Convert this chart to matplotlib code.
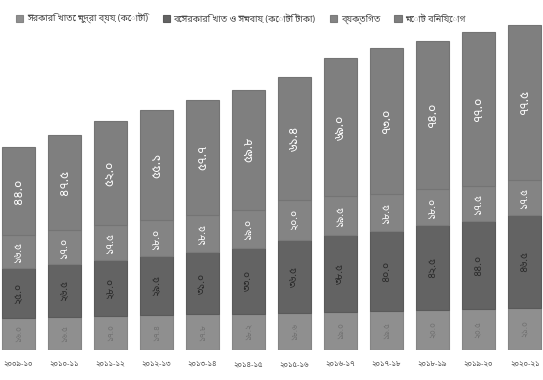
import matplotlib
matplotlib.use("Agg")
import matplotlib.pyplot as plt
import numpy as np

plt.rcParams['font.family'] = ['Noto Sans Bengali', 'DejaVu Sans']

years = ['২০০৯-১০', '২০১০-১১', '২০১১-১২', '২০১২-১৩', '২০১৩-১৪', '২০১৪-১৫',
         '২০১৫-১৬', '২০১৬-১৭', '২০১৭-১৮', '২০১৮-১৯', '২০১৯-২০', '২০২০-২১']

# stacked series, bottom to top
seg_a = [16.0, 16.5, 17.0, 17.4, 17.8, 18.2, 18.6, 19.0, 19.5, 20.0, 20.5, 21.0]
seg_b = [25.0, 26.5, 28.0, 29.5, 31.0, 33.0, 36.5, 38.5, 40.0, 42.5, 44.0, 46.5]
seg_c = [16.5, 17.0, 17.5, 18.0, 18.5, 19.0, 20.0, 19.5, 18.5, 18.0, 17.5, 17.5]
seg_d = [44.0, 47.5, 52.0, 55.1, 57.7, 59.8, 61.4, 69.0, 73.0, 74.0, 77.0, 77.5]

series_names = ['সরকারি খাতে মুদ্রা ব্যয় (কোটি)',
                'বেসরকারি খাত ও সমবায় (কোটি টাকা)',
                'ব্যক্তিগত',
                'মোট বিনিয়োগ']

BN_DIGITS = str.maketrans('0123456789', '০১২৩৪৫৬৭৮৯')


def bn(v):
    return f'{v:.1f}'.translate(BN_DIGITS)


fig = plt.figure(figsize=(5.43, 3.8), dpi=100)
ax = fig.add_axes([0, 30 / 380, 1, 330 / 380])

x = np.arange(len(years))
colors = ['#8f8f8f', '#636363', '#848484', '#7f7f7f']
edges = ['#858585', '#5a5a5a', '#7a7a7a', '#747474']
label_colors = ['#707070', '#2a2a2a', 'white', 'white']
label_sizes = [6, 7.5, 7.5, 9]

bottom = np.zeros(len(years))
for vals, col, ec, lc, fs, name in zip([seg_a, seg_b, seg_c, seg_d], colors, edges,
                                       label_colors, label_sizes, series_names):
    vals = np.array(vals)
    ax.bar(x, vals, width=0.72, bottom=bottom, color=col,
           edgecolor=ec, linewidth=0.8, label=name)
    for xi, b, v in zip(x, bottom, vals):
        ax.text(xi, b + v / 2, bn(v), rotation=90, ha='center', va='center',
                color=lc, fontsize=fs, fontweight='bold')
    bottom += vals

ax.set_xlim(-0.4, 11.4)
ax.set_ylim(0, 165)
ax.axis('off')

for xi, yr in zip(x, years):
    ax.text(xi, -7.5, yr, ha='center', va='center', fontsize=5.5, color='#555555')

ax.legend(loc='upper left', bbox_to_anchor=(0.015, 1.045), ncol=4, frameon=False,
          fontsize=6.5, handlelength=0.8, handleheight=0.8, handletextpad=0.4,
          columnspacing=1.6, labelcolor='#4a4a4a')

fig.savefig('out.png', dpi=100)
